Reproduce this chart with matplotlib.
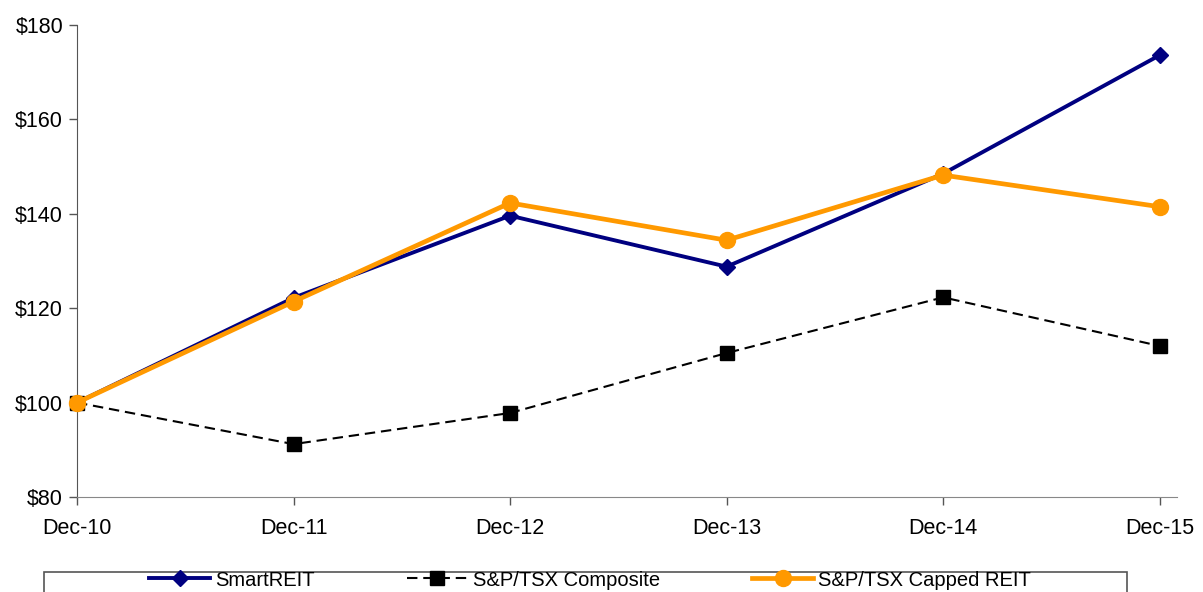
import matplotlib
matplotlib.use("Agg")
import matplotlib.pyplot as plt
from matplotlib.patches import Rectangle
from matplotlib import font_manager

names = {f.name for f in font_manager.fontManager.ttflist}
narrow = 'Liberation Sans Narrow' in names
plt.rcParams['font.family'] = (['Liberation Sans Narrow'] if narrow else []) + ['Liberation Sans', 'DejaVu Sans']

categories = ["Dec-10", "Dec-11", "Dec-12", "Dec-13", "Dec-14", "Dec-15"]
smartreit = [100, 122.2, 139.6, 128.8, 148.5, 173.6]
composite = [100, 91.2, 97.8, 110.5, 122.3, 112.0]
capped_reit = [100, 121.4, 142.3, 134.4, 148.2, 141.5]
yticks = [80, 100, 120, 140, 160, 180]
ytick_labels = ["$80", "$100", "$120", "$140", "$160", "$180"]

fig = plt.figure(figsize=(12.03, 5.92), dpi=100)
ax = fig.add_axes([77/1203, 1 - 497/592, 1100/1203, 472/592])

x = list(range(len(categories)))
l1, = ax.plot(x, smartreit, color="#000080", lw=2.8, marker="D", ms=8.5,
              label="SmartREIT", zorder=3, clip_on=False)
l2, = ax.plot(x, composite, color="black", lw=1.5, dashes=(5, 2.8), marker="s",
              ms=10, label="S&P/TSX Composite", zorder=2, clip_on=False)
l3, = ax.plot(x, capped_reit, color="#FF9900", lw=3.4, marker="o", ms=11.5,
              label="S&P/TSX Capped REIT", zorder=4, clip_on=False)

tick_fs = 17.5 if narrow else 15.5
leg_fs = 16.5 if narrow else 14.5

ax.set_xlim(0, 5.08)
ax.set_ylim(80, 180)
ax.set_xticks(x)
ax.set_xticklabels(categories)
ax.set_yticks(yticks)
ax.set_yticklabels(ytick_labels)
ax.tick_params(axis='both', labelsize=tick_fs, colors="#555555", labelcolor="black",
               length=6, width=1)
ax.tick_params(axis='x', pad=9)
ax.tick_params(axis='y', pad=4)
for s in ["top", "right"]:
    ax.spines[s].set_visible(False)
ax.spines["left"].set_color("#555555")
ax.spines["bottom"].set_color("#888888")

# legend frame
fig.patches.append(Rectangle((44/1203, -0.05), 1083/1203, 0.05 + 1 - 572/592,
                             transform=fig.transFigure, fill=False,
                             edgecolor="#555555", lw=1.2))
fig.legend(handles=[l1, l2, l3], loc="center", bbox_to_anchor=(590/1203, 1 - 580/592),
           ncol=3, frameon=False, fontsize=leg_fs, handlelength=3.0 if not narrow else 2.6,
           handletextpad=0.25, columnspacing=4.6 if not narrow else 4.6, borderaxespad=0,
           borderpad=0)

fig.savefig("out.png", dpi=100)
